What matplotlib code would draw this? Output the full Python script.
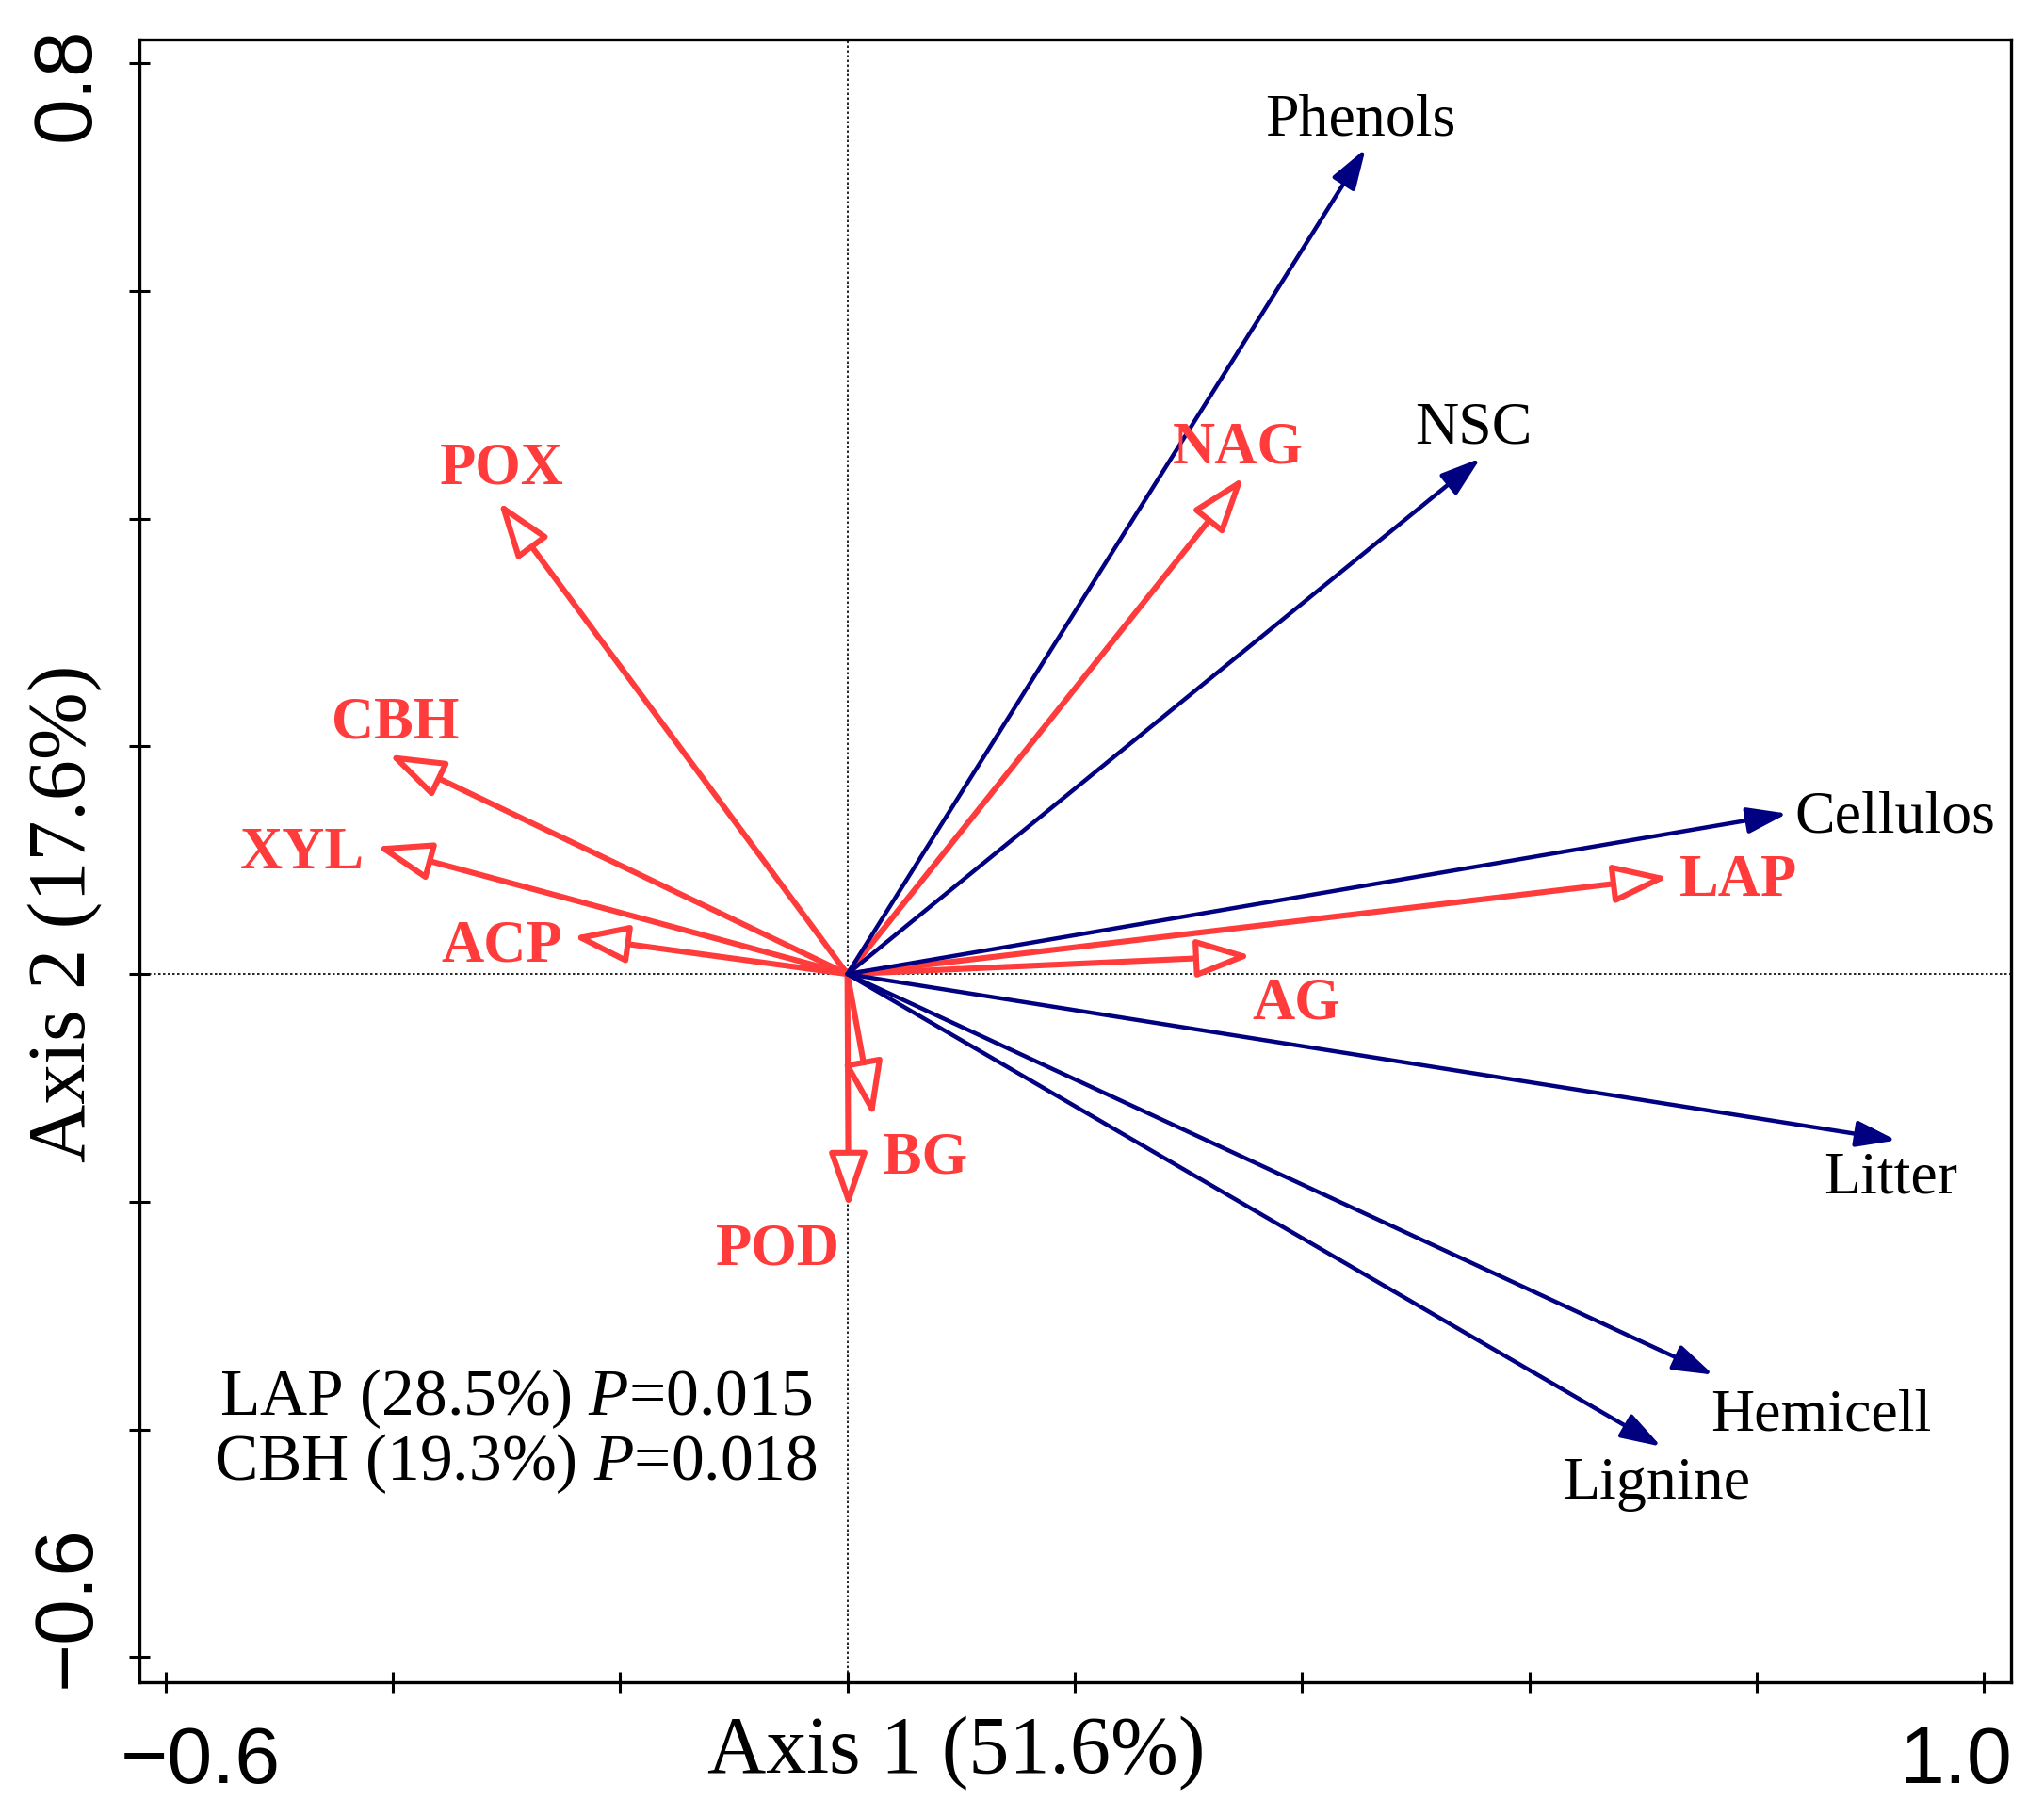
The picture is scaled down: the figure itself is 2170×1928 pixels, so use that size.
import matplotlib
matplotlib.use("Agg")
import matplotlib.pyplot as plt
import matplotlib.transforms as mtransforms
from matplotlib.patches import FancyArrowPatch

# ---- data ----
env_names = ["Phenols", "NSC", "Cellulos", "Litter", "Hemicell", "Lignine"]
env_x = [0.456, 0.557, 0.827, 0.923, 0.762, 0.716]
env_y = [0.725, 0.453, 0.141, -0.146, -0.352, -0.415]

enz_names = ["POX", "CBH", "XYL", "ACP", "NAG", "LAP", "AG", "BG", "POD"]
enz_x = [-0.307, -0.404, -0.415, -0.242, 0.349, 0.723, 0.356, 0.023, 0.001]
enz_y = [0.415, 0.193, 0.112, 0.033, 0.437, 0.085, 0.016, -0.126, -0.206]

# label anchor positions (text baselines, data units)
env_lab_x = [0.451, 0.551, 0.922, 0.918, 0.857, 0.712]
env_lab_y = [0.737, 0.466, 0.125, -0.192, -0.401, -0.461]
enz_lab_x = [-0.304, -0.398, -0.480, -0.304, 0.344, 0.784, 0.395, 0.068, -0.061]
enz_lab_y = [0.431, 0.207, 0.093, 0.011, 0.449, 0.069, -0.039, -0.175, -0.255]

stat_lines = ["LAP (28.5%) $P$=0.015", "CBH (19.3%) $P$=0.018"]
stat_y = [-0.387, -0.444]

x_ticks = [-0.6, -0.4, -0.2, 0.0, 0.2, 0.4, 0.6, 0.8, 1.0]
x_ticklabels = ["\u22120.6", "", "", "", "", "", "", "", "1.0"]
y_ticks = [-0.6, -0.4, -0.2, 0.0, 0.2, 0.4, 0.6, 0.8]
y_ticklabels = ["\u22120.6", "", "", "", "", "", "", "0.8"]

x_label = "Axis 1 (51.6%)"
y_label = "Axis 2 (17.6%)"

RED = "#FF3B3B"
NAVY = "#000080"

plt.rcParams["mathtext.fontset"] = "custom"
plt.rcParams["mathtext.rm"] = "Liberation Serif"
plt.rcParams["mathtext.it"] = "Liberation Serif:italic"

fig = plt.figure(figsize=(21.7, 19.28), dpi=100)
ax = fig.add_axes([0.0682, 0.0737, 0.9157, 0.9046])
ax.set_xlim(-0.623, 1.024)
ax.set_ylim(-0.622, 0.821)

ax.axhline(0, color="black", lw=1.2, ls=(0, (1.5, 1.5)), zorder=1)
ax.axvline(0, color="black", lw=1.2, ls=(0, (1.5, 1.5)), zorder=1)

# enzyme arrows (open heads)
for x, y in zip(enz_x, enz_y):
    a = FancyArrowPatch((0, 0), (x, y),
                        arrowstyle="-|>,head_length=36,head_width=12.5",
                        mutation_scale=1, lw=4.4, ec=RED, fc="white",
                        shrinkA=0, shrinkB=0, joinstyle="round",
                        capstyle="round", zorder=2)
    ax.add_patch(a)

# environmental arrows (filled heads)
for x, y in zip(env_x, env_y):
    a = FancyArrowPatch((0, 0), (x, y),
                        arrowstyle="-|>,head_length=26,head_width=8.5",
                        mutation_scale=1, lw=3.2, ec=NAVY, fc=NAVY,
                        shrinkA=0, shrinkB=0, joinstyle="round",
                        capstyle="round", zorder=3)
    ax.add_patch(a)

for name, x, y in zip(env_names, env_lab_x, env_lab_y):
    ax.text(x, y, name, ha="center", va="baseline", color="black",
            family="Liberation Serif", fontsize=46, zorder=4)

for name, x, y in zip(enz_names, enz_lab_x, enz_lab_y):
    ax.text(x, y, name, ha="center", va="baseline", color=RED,
            family="Liberation Serif", fontweight="bold", fontsize=45, zorder=4)

for s, y in zip(stat_lines, stat_y):
    ax.text(-0.292, y, s, ha="center", va="baseline", color="black",
            family="Liberation Serif", fontsize=50, zorder=4)

# ticks (labels drawn manually, shifted inward like the reference)
ax.set_xticks(x_ticks)
ax.set_xticklabels([""] * len(x_ticks))
ax.set_yticks(y_ticks)
ax.set_yticklabels([""] * len(y_ticks))
ax.tick_params(direction="inout", length=16, width=2.2, color="black")
for sp in ax.spines.values():
    sp.set_linewidth(2.4)

xt = ax.get_xaxis_transform()
yt = ax.get_yaxis_transform()
for v, lab in zip(x_ticks, x_ticklabels):
    if not lab:
        continue
    dx = 26.6 if v < 0 else -21.6  # points
    off = mtransforms.ScaledTranslation(dx / 72, -77 / 72, fig.dpi_scale_trans)
    ax.text(v, 0, lab, transform=xt + off, ha="center", va="baseline",
            family="Liberation Sans", fontsize=62, clip_on=False)
for v, lab in zip(y_ticks, y_ticklabels):
    if not lab:
        continue
    dy = 39 if v < 0 else -16  # points
    off = mtransforms.ScaledTranslation(-38.5 / 72, dy / 72, fig.dpi_scale_trans)
    ax.text(0, v, lab, transform=yt + off, ha="center", va="baseline",
            rotation=90, rotation_mode="anchor",
            family="Liberation Sans", fontsize=63, clip_on=False)

fig.text(0.468, 0.0347, x_label, ha="center", va="center",
         family="Liberation Serif", fontsize=62)
fig.text(0.0318, 0.497, y_label, ha="center", va="center", rotation=90,
         family="Liberation Serif", fontsize=62)

fig.savefig("out.png", dpi=100)
